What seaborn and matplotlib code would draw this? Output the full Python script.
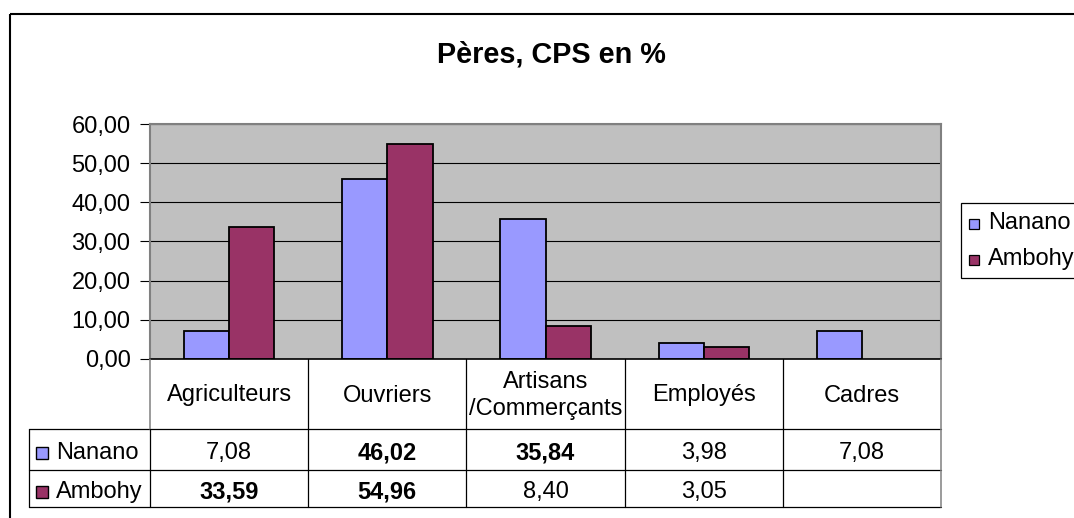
import numpy as np
import pandas as pd
import matplotlib
matplotlib.use("Agg")
import matplotlib.pyplot as plt
import matplotlib.transforms as mtransforms
from matplotlib.patches import Rectangle
from matplotlib.lines import Line2D
from matplotlib.ticker import FuncFormatter
import seaborn as sns

# ---- data -------------------------------------------------------------
title = "Pères, CPS en %"
categories = ["Agriculteurs", "Ouvriers", "Artisans\n/Commerçants", "Employés", "Cadres"]
series = ["Nanano", "Ambohy"]
nanano = [7.08, 46.02, 35.84, 3.98, 7.08]
ambohy = [33.59, 54.96, 8.40, 3.05, np.nan]
y_ticks = [0, 10, 20, 30, 40, 50, 60]

# table cells printed in bold (series, category index)
bold_cells = {("Nanano", 1), ("Nanano", 2), ("Ambohy", 0), ("Ambohy", 1)}

colors = {"Nanano": "#9999FF", "Ambohy": "#993366"}
values = {"Nanano": nanano, "Ambohy": ambohy}

df = pd.DataFrame({
    "CPS": [c for s in series for c in categories],
    "Série": [s for s in series for _ in categories],
    "pct": [v for s in series for v in values[s]],
})

# ---- style ------------------------------------------------------------
sns.set_style("white")
plt.rcParams["font.family"] = ["Liberation Sans", "DejaVu Sans"]
FS = 17

W, H = 1074, 518
fig = plt.figure(figsize=(W / 100, H / 100), dpi=100)
fig.patch.set_facecolor("white")

# pixel transform with origin at top-left of the image
px = mtransforms.Affine2D().scale(1 / W, -1 / H).translate(0, 1) + fig.transFigure

ax = fig.add_axes([150 / W, 1 - 358.7 / H, 791 / W, 234.4 / H])
sns.barplot(data=df, x="CPS", y="pct", hue="Série", order=categories,
            hue_order=series, palette=colors, saturation=1, width=2 / 3.5,
            edgecolor="black", linewidth=1.3, errorbar=None, legend=False, ax=ax)

ax.set_xlim(-0.5, len(categories) - 0.5)
ax.set_ylim(y_ticks[0], y_ticks[-1])
ax.set_yticks(y_ticks)
ax.yaxis.set_major_formatter(FuncFormatter(lambda v, p: f"{v:.2f}".replace(".", ",")))
ax.set_facecolor("#C0C0C0")
ax.yaxis.grid(True, color="black", lw=0.8)
ax.xaxis.grid(False)
ax.set_axisbelow(True)
ax.set_xlabel("")
ax.set_ylabel("")
ax.tick_params(axis="x", length=0, labelbottom=False)
ax.tick_params(axis="y", length=7, width=0.8, color="black", pad=7,
               labelsize=FS, labelcolor="black", left=True)
for side in ["left", "top", "right"]:
    ax.spines[side].set_visible(True)
    ax.spines[side].set_color("#808080")
    ax.spines[side].set_linewidth(1.5)
ax.spines["bottom"].set_visible(True)
ax.spines["bottom"].set_color("black")
ax.spines["bottom"].set_linewidth(1.2)

# ---- title ------------------------------------------------------------
fig.text(551.5, 62.5, title, transform=px, ha="center", va="baseline",
         fontsize=20.8, fontweight="bold", color="black")

# ---- data table below the plot ---------------------------------------
fig.canvas.draw()
def col_px(i):
    x, _ = ax.transData.transform((i - 0.5, 0))
    return x

edges = [col_px(i) for i in range(len(categories) + 1)]
top, head_bot, row_mid, bot = 358.7, 429.3, 470.0, 506.7
left_tab = 29

def hline(x0, x1, y, c="black", lw=0.9):
    fig.add_artist(Line2D([x0, x1], [y, y], transform=px, color=c, lw=lw))

def vline(x, y0, y1, c="black", lw=0.9):
    fig.add_artist(Line2D([x, x], [y0, y1], transform=px, color=c, lw=lw))

hline(left_tab, edges[-1], head_bot)
hline(left_tab, edges[-1], row_mid)
hline(left_tab, edges[-1], bot)
vline(left_tab, head_bot, bot)
vline(edges[0], top, head_bot, c="#808080", lw=1.1)
vline(edges[0], head_bot, bot)
for x in edges[1:-1]:
    vline(x, top, bot)
vline(edges[-1], top, bot, c="#808080", lw=1.1)

# header labels
header_base, line_step = 401.5, 28
for i, cat in enumerate(categories):
    cx = (edges[i] + edges[i + 1]) / 2
    lines = cat.split("\n")
    n = len(lines)
    for k, ln in enumerate(lines):
        yb = header_base + (k - (n - 1) / 2) * line_step
        fig.text(cx, yb, ln, transform=px, ha="center", va="baseline",
                 fontsize=FS, color="black")

# series rows
row_base = {"Nanano": 459.3, "Ambohy": 498.3}
for s in series:
    yb = row_base[s]
    fig.add_artist(Rectangle((36, yb - 12.5), 12, 12, transform=px,
                             facecolor=colors[s], edgecolor="black", lw=1))
    fig.text(56, yb, s, transform=px, ha="left", va="baseline",
             fontsize=FS, color="black")
    for i, v in enumerate(values[s]):
        if np.isnan(v):
            continue
        cx = (edges[i] + edges[i + 1]) / 2
        fig.text(cx, yb, f"{v:.2f}".replace(".", ","), transform=px,
                 ha="center", va="baseline", fontsize=FS, color="black",
                 fontweight="bold" if (s, i) in bold_cells else "normal")

# ---- legend (right) ---------------------------------------------------
fig.add_artist(Rectangle((961, 203), 200, 75, transform=px,
                         facecolor="white", edgecolor="black", lw=0.9))
leg_base = {"Nanano": 229.3, "Ambohy": 265.0}
for s in series:
    yb = leg_base[s]
    fig.add_artist(Rectangle((969, yb - 10), 10, 10, transform=px,
                             facecolor=colors[s], edgecolor="black", lw=0.9))
    fig.text(988, yb, s, transform=px, ha="left", va="baseline",
             fontsize=FS, color="black")

# ---- chart frame ------------------------------------------------------
fig.add_artist(Rectangle((9.5, 14), 1200, 600, transform=px,
                         fill=False, edgecolor="black", lw=1.5))

fig.savefig("out.png", dpi=100)
